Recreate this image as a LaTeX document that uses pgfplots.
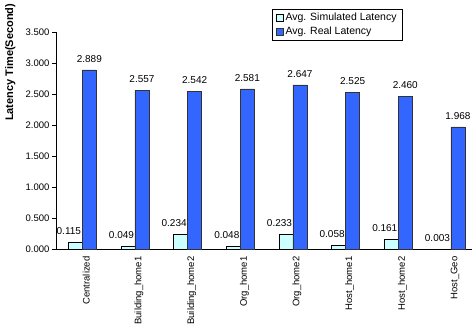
\documentclass[border=0pt]{standalone}
\usepackage{fontspec}
\setmainfont{Liberation Sans}
\usepackage{pgfplots}
\pgfplotsset{compat=1.18}
\definecolor{simc}{RGB}{204,255,255}
\definecolor{realc}{RGB}{51,102,255}
\begin{document}
\begin{tikzpicture}
\begin{axis}[
  scale only axis,
  width=416pt, height=217pt,
  xmin=-0.5, xmax=7.4,
  ymin=0, ymax=3.5,
  ytick={0,0.5,1,1.5,2,2.5,3,3.5},
  yticklabel={\pgfmathprintnumber[fixed,fixed zerofill,precision=3,assume math mode=true]{\tick}},
  xtick={0,...,7},
  xticklabels={Centralized,Building\_home1,Building\_home2,Org\_home1,Org\_home2,Host\_home1,Host\_home2,Host\_Geo},
  xticklabel style={rotate=90,anchor=east,font=\fontsize{9.5}{10}\selectfont,yshift=-4pt},
  yticklabel style={font=\fontsize{9.5}{10}\selectfont,xshift=1pt},
  major x tick style={draw=none},
  tick align=outside,
  major tick length=4pt,
  y tick style={black},
  axis x line*=bottom,
  axis y line*=left,
  ylabel={\textbf{Latency Time(Second)}},
  ylabel style={font=\fontsize{11}{12}\selectfont,at={(axis description cs:-0.11,0.86)},anchor=center,rotate=0},
  ybar, bar width=14pt,
  enlarge x limits=false,
  legend style={at={(0.519,1.106)},anchor=north west,font=\fontsize{10.5}{12}\selectfont,draw=black,legend cell align=left,row sep=1pt,inner xsep=4pt,inner ysep=2pt},
  legend image code/.code={\draw[#1] (0pt,-3pt) rectangle (7pt,4pt);},
  nodes near coords={\pgfmathprintnumber[fixed,fixed zerofill,precision=3,assume math mode=true]{\pgfplotspointmeta}},
  every node near coord/.append style={font=\fontsize{10}{11}\selectfont,yshift=4pt},
  clip=false,
]
\addplot[fill=simc,draw=black,bar shift=-7pt,every node near coord/.append style={xshift=-6.5pt}] coordinates {
 (0,0.115) (1,0.049) (2,0.234) (3,0.048) (4,0.233) (5,0.058) (6,0.161) (7,0.003)};
\addplot[fill=realc,draw=black!80,bar shift=7pt] coordinates {
 (0,2.889) (1,2.557) (2,2.542) (3,2.581) (4,2.647) (5,2.525) (6,2.460) (7,1.968)};
\legend{Avg. Simulated Latency,Avg. Real Latency}
\end{axis}
\pgfresetboundingbox
\path (current axis.south west) ++(-56pt,-75pt) rectangle ++(474pt,324pt);
\end{tikzpicture}
\end{document}
